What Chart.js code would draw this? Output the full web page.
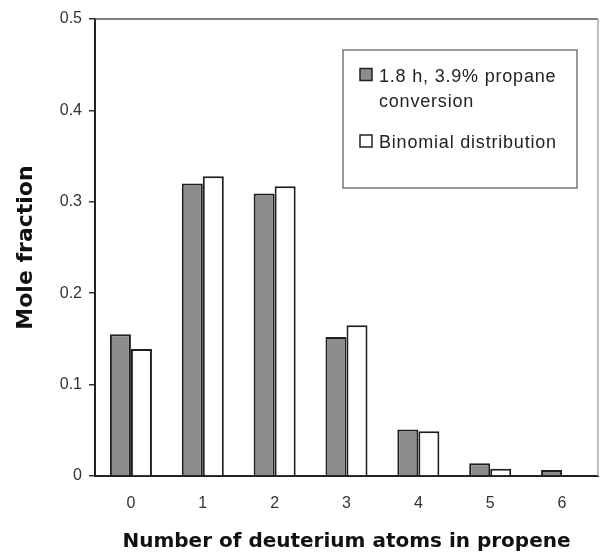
<!DOCTYPE html>
<html>
<head>
<meta charset="utf-8">
<script src="https://cdn.jsdelivr.net/npm/chart.js@4/dist/chart.umd.min.js"></script>
<style>
  body { margin: 0; background: #fff; }
  #wrap { width: 600px; height: 554px; }
</style>
</head>
<body>
<div id="wrap"><canvas id="deutChart" width="600" height="554"></canvas></div>
<script>
const deuteriumAtoms = ['0', '1', '2', '3', '4', '5', '6'];
const measured = [0.155, 0.320, 0.309, 0.152, 0.051, 0.014, 0.0065];
const binomial = [0.139, 0.328, 0.317, 0.165, 0.049, 0.008, 0];
const seriesNames = ['1.8 h, 3.9% propane conversion', 'Binomial distribution'];
const yTicks = [0, 0.1, 0.2, 0.3, 0.4, 0.5];

// frame on top and right of the plot
const plotFrame = {
    id: 'plotFrame',
    afterDraw(chart) {
        const { ctx, chartArea: a } = chart;
        ctx.save();
        ctx.lineWidth = 1.5;
        ctx.strokeStyle = '#555';
        ctx.beginPath();
        ctx.moveTo(a.left, a.top);
        ctx.lineTo(a.right, a.top);
        ctx.stroke();
        ctx.strokeStyle = '#aaa';
        ctx.beginPath();
        ctx.moveTo(a.right, a.top);
        ctx.lineTo(a.right, a.bottom);
        ctx.stroke();
        ctx.restore();
    }
};

// boxed legend with wrapped labels
const boxLegend = {
    id: 'boxLegend',
    afterDraw(chart) {
        const ctx = chart.ctx;
        const left = 343, top = 50, w = 234, h = 138;
        ctx.save();
        ctx.strokeStyle = '#777';
        ctx.lineWidth = 1.5;
        ctx.strokeRect(left, top, w, h);
        ctx.font = '18px "Liberation Sans", Arial, sans-serif';
        ctx.letterSpacing = '0.8px';
        ctx.textBaseline = 'alphabetic';
        let y = 81.5;
        chart.data.datasets.forEach(ds => {
            ctx.fillStyle = ds.backgroundColor;
            ctx.fillRect(left + 17, y - 13, 12, 12);
            ctx.strokeStyle = '#222';
            ctx.lineWidth = 1.5;
            ctx.strokeRect(left + 17, y - 13, 12, 12);
            ctx.fillStyle = '#222';
            const words = ds.label.split(' ');
            const lines = [];
            let line = '';
            words.forEach(word => {
                const test = line ? line + ' ' + word : word;
                if (line && ctx.measureText(test).width > 190) {
                    lines.push(line);
                    line = word;
                } else {
                    line = test;
                }
            });
            lines.push(line);
            lines.forEach(l => {
                ctx.fillText(l, left + 36, y);
                y += 25;
            });
            y += 16.5;
        });
        ctx.restore();
    }
};

const ctx = document.getElementById('deutChart').getContext('2d');
new Chart(ctx, {
    type: 'bar',
    data: {
        labels: deuteriumAtoms,
        datasets: [
            {
                label: seriesNames[0],
                data: measured,
                backgroundColor: '#8c8c8c',
                borderColor: '#1e1e1e',
                borderWidth: 2
            },
            {
                label: seriesNames[1],
                data: binomial,
                backgroundColor: '#ffffff',
                borderColor: '#1e1e1e',
                borderWidth: 2
            }
        ]
    },
    options: {
        responsive: false,
        animation: false,
        layout: { padding: { top: 19, right: 2, bottom: 0, left: 0 } },
        datasets: {
            bar: { categoryPercentage: 0.585, barPercentage: 1.0 }
        },
        plugins: {
            legend: { display: false },
            tooltip: { enabled: false }
        },
        scales: {
            x: {
                grid: { display: false, drawTicks: false },
                border: { display: true, color: '#222', width: 2 },
                ticks: {
                    color: '#333',
                    padding: 18,
                    maxRotation: 0,
                    autoSkip: false,
                    font: { family: '"Liberation Sans", Arial, sans-serif', size: 16 }
                },
                title: {
                    display: true,
                    text: 'Number of deuterium atoms in propene',
                    color: '#111',
                    padding: { top: 0, bottom: 0 },
                    font: { family: '"DejaVu Sans", sans-serif', size: 20, weight: 'bold', lineHeight: 1.2 }
                },
                afterFit(scale) { scale.height = 78; }
            },
            y: {
                min: 0,
                max: 0.5,
                afterBuildTicks(scale) {
                    scale.ticks = yTicks.map(v => ({ value: v }));
                },
                grid: {
                    drawOnChartArea: false,
                    drawTicks: true,
                    tickLength: 6,
                    color: '#333',
                    lineWidth: 1.5
                },
                border: { display: true, color: '#222', width: 2 },
                ticks: {
                    color: '#333',
                    padding: 7,
                    font: { family: '"Liberation Sans", Arial, sans-serif', size: 16 }
                },
                title: {
                    display: true,
                    text: 'Mole fraction',
                    color: '#111',
                    padding: { top: 13, bottom: 0 },
                    font: { family: '"DejaVu Sans", sans-serif', size: 22, weight: 'bold', lineHeight: 1.2 }
                },
                afterFit(scale) { scale.width = 95; }
            }
        }
    },
    plugins: [plotFrame, boxLegend]
});
</script>
</body>
</html>
